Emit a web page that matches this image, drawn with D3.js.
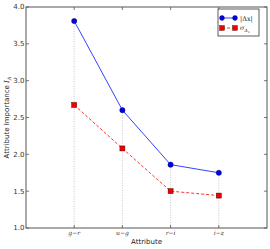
<!DOCTYPE html>
<html>
<head>
<meta charset="utf-8">
<script src="https://cdn.jsdelivr.net/npm/d3@7"></script>
<style>
  body { margin: 0; background: #fff; }
  svg { display: block; font-family: "DejaVu Sans", sans-serif; }
</style>
</head>
<body>
<div id="chart"></div>
<script>
// data
const attributes = ["g\u2212r", "u\u2212g", "r\u2212i", "i\u2212z"];
const deltaX = [3.81, 2.60, 1.86, 1.75];
const sigmaDelta = [2.67, 2.08, 1.50, 1.44];
const yTicks = [1.0, 1.5, 2.0, 2.5, 3.0, 3.5, 4.0];

const width = 270, height = 249;
const margin = {top: 7, right: 3, bottom: 21, left: 26};

const svg = d3.select('#chart').append('svg')
  .attr('width', width)
  .attr('height', height);

const x = d3.scaleLinear()
  .domain([0, attributes.length + 1])
  .range([margin.left, width - margin.right]);

const y = d3.scaleLinear()
  .domain([1, 4])
  .range([height - margin.bottom, margin.top]);

const idx = attributes.map((d, i) => i + 1);

// dotted guides from the top point down
svg.append('g').selectAll('line')
  .data(idx)
  .join('line')
  .attr('x1', d => x(d)).attr('x2', d => x(d))
  .attr('y1', (d, i) => y(Math.max(deltaX[i], sigmaDelta[i])))
  .attr('y2', y(1))
  .attr('stroke', '#bbb')
  .attr('stroke-width', 0.8)
  .attr('stroke-dasharray', '1,1.5');

// frame
svg.append('rect')
  .attr('x', x(0)).attr('y', y(4))
  .attr('width', x(5) - x(0)).attr('height', y(1) - y(4))
  .attr('fill', 'none')
  .attr('stroke', '#555')
  .attr('stroke-width', 1);

// ticks inside on all four sides
const tickG = svg.append('g').attr('stroke', '#555').attr('stroke-width', 0.8);
yTicks.forEach(t => {
  tickG.append('line').attr('x1', x(0)).attr('x2', x(0) + 3).attr('y1', y(t)).attr('y2', y(t));
  tickG.append('line').attr('x1', x(5)).attr('x2', x(5) - 3).attr('y1', y(t)).attr('y2', y(t));
});
idx.forEach(t => {
  tickG.append('line').attr('x1', x(t)).attr('x2', x(t)).attr('y1', y(1)).attr('y2', y(1) - 3);
  tickG.append('line').attr('x1', x(t)).attr('x2', x(t)).attr('y1', y(4)).attr('y2', y(4) + 3);
});

// tick labels
svg.append('g').selectAll('text')
  .data(yTicks)
  .join('text')
  .attr('x', x(0) - 1.5)
  .attr('y', d => y(d))
  .attr('dy', '0.35em')
  .attr('text-anchor', 'end')
  .attr('fill', '#333')
  .style('font-size', '7px')
  .text(d => d.toFixed(1));

svg.append('g').selectAll('text')
  .data(attributes)
  .join('text')
  .attr('x', (d, i) => x(i + 1))
  .attr('y', y(1) + 7)
  .attr('text-anchor', 'middle')
  .attr('fill', '#333')
  .style('font-family', '"DejaVu Serif", serif')
  .style('font-style', 'italic')
  .style('font-size', '6px')
  .text(d => d);

// axis titles
svg.append('text')
  .attr('x', (x(0) + x(5)) / 2)
  .attr('y', height - 5.5)
  .attr('text-anchor', 'middle')
  .attr('fill', '#222')
  .style('font-size', '7px')
  .text('Attribute');

const yt = svg.append('text')
  .attr('transform', `translate(9, ${(y(1) + y(4)) / 2}) rotate(-90)`)
  .attr('text-anchor', 'middle')
  .attr('fill', '#222')
  .style('font-size', '7px');
yt.append('tspan').text('Attribute Importance ');
yt.append('tspan').style('font-family', '"DejaVu Serif", serif').style('font-style', 'italic').text('I');
yt.append('tspan').attr('dy', 1.5).style('font-size', '5px').style('font-family', '"DejaVu Serif", serif').style('font-style', 'italic').text('A');

// series
const line = d3.line().x((d, i) => x(i + 1)).y(d => y(d));

svg.append('path')
  .datum(deltaX)
  .attr('d', line)
  .attr('fill', 'none')
  .attr('stroke', '#3344ff')
  .attr('stroke-width', 1);

svg.append('path')
  .datum(sigmaDelta)
  .attr('d', line)
  .attr('fill', 'none')
  .attr('stroke', '#ff3030')
  .attr('stroke-width', 1)
  .attr('stroke-dasharray', '3,2');

svg.append('g').selectAll('circle')
  .data(deltaX)
  .join('circle')
  .attr('cx', (d, i) => x(i + 1))
  .attr('cy', d => y(d))
  .attr('r', 2.6)
  .attr('fill', '#0000ee')
  .attr('stroke', '#000066')
  .attr('stroke-width', 0.5);

svg.append('g').selectAll('rect')
  .data(sigmaDelta)
  .join('rect')
  .attr('x', (d, i) => x(i + 1) - 2.5)
  .attr('y', d => y(d) - 2.5)
  .attr('width', 5).attr('height', 5)
  .attr('fill', '#ee0000')
  .attr('stroke', '#660000')
  .attr('stroke-width', 0.5);

// legend
const lg = svg.append('g').attr('transform', 'translate(218,9)');
lg.append('rect')
  .attr('width', 41).attr('height', 27)
  .attr('fill', '#fff')
  .attr('stroke', '#333')
  .attr('stroke-width', 0.8);

lg.append('line').attr('x1', 4).attr('x2', 17).attr('y1', 9).attr('y2', 9)
  .attr('stroke', '#3344ff').attr('stroke-width', 1);
[4, 17].forEach(cx => lg.append('circle').attr('cx', cx).attr('cy', 9).attr('r', 2.4)
  .attr('fill', '#0000ee').attr('stroke', '#000066').attr('stroke-width', 0.5));
lg.append('text').attr('x', 22).attr('y', 11.5)
  .style('font-family', '"DejaVu Serif", serif').style('font-size', '6.5px').attr('fill', '#222')
  .text('|\u0394x|');

lg.append('line').attr('x1', 4).attr('x2', 17).attr('y1', 19).attr('y2', 19)
  .attr('stroke', '#ff3030').attr('stroke-width', 1).attr('stroke-dasharray', '3,2');
[4, 17].forEach(cx => lg.append('rect').attr('x', cx - 2.3).attr('y', 16.7).attr('width', 4.6).attr('height', 4.6)
  .attr('fill', '#ee0000').attr('stroke', '#660000').attr('stroke-width', 0.5));
const st = lg.append('text').attr('x', 22).attr('y', 21)
  .style('font-family', '"DejaVu Serif", serif').style('font-style', 'italic').style('font-size', '6.5px').attr('fill', '#222');
st.append('tspan').text('\u03c3');
st.append('tspan').attr('dy', 1.5).style('font-size', '4.5px').text('\u0394');
st.append('tspan').attr('dy', 1).style('font-size', '3.5px').text('x');
</script>
</body>
</html>
